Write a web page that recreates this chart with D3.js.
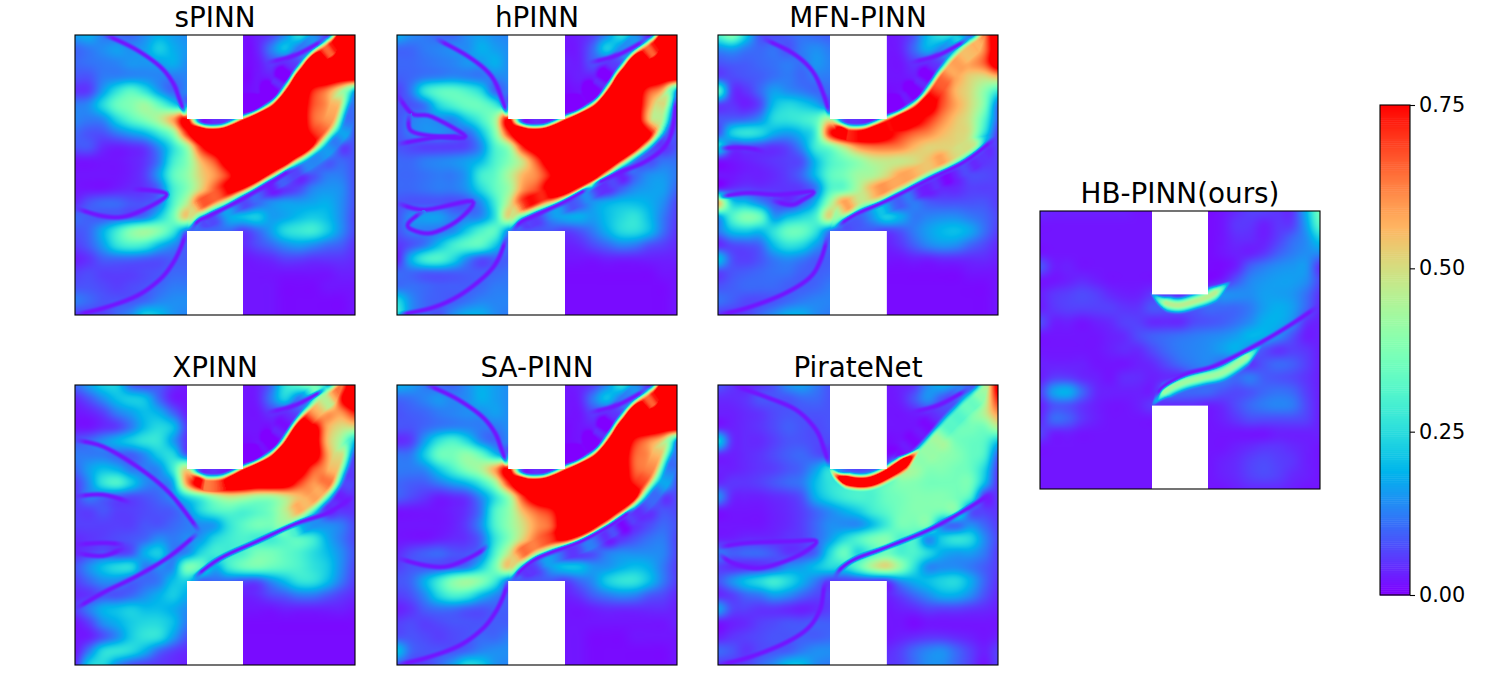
<!DOCTYPE html>
<html>
<head>
<meta charset="utf-8">
<script src="https://cdnjs.cloudflare.com/ajax/libs/d3/7.8.5/d3.min.js"></script>
<style>
body { margin: 0; background: #fff; }
text { font-family: "DejaVu Sans", sans-serif; fill: #000; }
</style>
</head>
<body>
<div id="chart"></div>
<script>
var svgWidth = 1500;
var svgHeight = 700;

// velocity fields, 21 x 21 nodes, top row first, in hundredths
// (the colour scale saturates at 75, anything read as full red is written as 90)
var sPINN = [
[16,18,12,10,10,14,18,16,14,14,14,14,2,3,6,14,25,14,10,90,90],
[10,12,14,16,14,16,22,18,15,15,15,15,2,3,12,20,10,5,25,90,90],
[10,11,12,13,15,15,16,18,14,14,14,14,2,2,6,4,10,90,90,90,90],
[8,8,12,13,14,14,13,12,13,13,13,13,1,2,3,8,90,90,90,85,85],
[5,6,16,26,32,26,16,10,13,13,13,3,1,2,3,90,90,72,62,45,20],
[12,14,24,34,38,42,34,24,14,10,10,10,1,3,30,90,85,68,60,40,12],
[13,12,14,24,32,38,45,58,75,12,10,12,40,90,90,90,85,66,58,35,10],
[10,8,8,12,16,20,28,40,72,90,90,90,90,90,90,90,85,72,62,30,8],
[8,8,4,3,4,6,14,26,42,72,85,90,90,90,90,90,90,85,35,8,8],
[2,2,2,2,3,5,12,28,38,56,68,85,90,90,90,90,55,25,10,10,8],
[2,2,2,2,3,6,16,32,40,52,60,72,90,90,85,30,8,8,12,12,8],
[2,2,2,3,4,5,10,28,38,52,66,75,80,25,7,5,7,13,15,14,8],
[4,8,10,10,8,8,12,30,46,66,60,10,8,10,14,16,16,17,18,14,8],
[10,9,8,9,9,12,22,35,52,10,10,17,20,22,16,17,20,22,20,14,7],
[8,10,18,28,38,42,38,28,12,10,10,10,6,10,16,24,27,28,22,14,7],
[6,9,16,26,30,28,20,14,9,9,4,4,4,7,10,14,16,14,11,9,5],
[3,5,9,10,10,9,8,9,9,9,2,2,2,3,4,6,6,5,5,5,4],
[6,7,6,6,6,7,8,10,10,10,2,2,2,2,2,2,2,2,2,3,3],
[8,8,7,6,7,8,10,12,12,12,2,2,2,2,2,1,1,1,2,2,2],
[12,10,8,8,8,10,13,14,14,14,2,2,2,2,2,1,1,1,1,1,2],
[6,6,6,10,14,22,20,15,13,13,2,2,2,2,2,1,1,1,1,1,2]
];

var hPINN = [
[18,14,12,10,10,14,16,14,13,13,13,2,2,3,6,14,25,14,6,90,90],
[10,10,12,13,14,14,18,16,14,14,14,2,2,3,10,22,12,6,25,90,90],
[10,10,11,12,13,15,15,18,14,14,14,3,3,3,8,5,6,90,90,90,90],
[9,10,12,13,14,13,12,13,14,14,14,2,2,3,3,8,90,90,90,85,85],
[6,12,26,32,33,30,24,10,12,12,12,1,1,2,3,90,90,85,68,55,14],
[8,8,12,24,30,34,34,28,12,10,10,2,2,5,35,90,90,85,60,38,10],
[8,12,14,14,14,22,30,42,75,12,10,12,40,90,90,90,90,85,55,30,8],
[8,12,14,14,12,10,20,38,72,90,90,90,90,90,90,90,90,85,70,25,7],
[8,7,6,6,6,7,14,30,42,72,85,90,90,90,90,90,90,72,20,6,8],
[10,10,12,13,14,16,20,30,38,50,68,85,90,90,90,85,65,20,8,11,11],
[10,10,11,12,12,16,28,33,44,56,62,75,90,90,85,40,8,10,14,15,12],
[10,10,11,12,12,15,24,33,42,60,68,80,85,60,12,5,9,14,16,16,10],
[8,8,8,8,7,8,14,28,48,68,72,35,8,11,15,18,20,20,18,14,7],
[8,14,16,16,12,12,14,26,50,10,10,15,17,18,16,20,24,26,20,12,6],
[8,12,12,12,14,22,30,32,14,8,8,8,6,8,12,18,24,25,20,11,5],
[5,8,12,20,28,32,32,22,10,10,3,3,3,4,7,10,13,12,8,6,4],
[3,18,28,30,24,14,8,9,9,9,2,2,2,2,2,3,3,3,3,3,3],
[10,10,9,9,9,9,9,10,11,11,1,1,1,1,1,1,1,1,1,2,2],
[11,11,10,9,9,9,10,12,12,12,1,1,1,1,1,1,1,1,1,1,2],
[24,14,10,9,9,11,13,13,13,13,1,1,1,1,1,1,1,1,1,1,2],
[28,14,10,8,14,18,18,14,12,12,1,1,1,1,1,1,1,1,1,1,2]
];

var mfnPINN = [
[30,38,22,8,7,9,11,10,9,9,9,2,2,3,8,20,26,22,10,60,85],
[14,16,12,10,11,8,12,14,12,12,12,2,2,3,10,18,12,6,40,62,85],
[8,9,9,10,11,12,11,15,13,13,13,2,2,2,5,4,4,50,58,66,85],
[7,7,8,9,11,12,10,12,12,12,12,2,2,2,3,6,58,58,52,50,55],
[30,6,5,10,16,14,12,10,10,10,10,1,1,2,5,68,68,56,50,40,28],
[6,5,3,7,20,24,22,18,10,10,10,1,1,8,55,80,68,58,50,38,12],
[8,9,10,14,24,26,28,32,45,14,10,12,35,85,80,72,62,54,48,32,10],
[8,22,26,24,18,16,20,30,72,85,85,85,78,72,66,62,56,52,48,26,6],
[24,7,7,6,5,7,14,28,36,48,60,64,64,62,56,52,52,50,40,8,6],
[2,2,3,4,5,6,8,20,30,35,40,46,48,48,50,54,56,40,6,5,6],
[2,2,3,3,4,6,10,20,32,36,42,44,50,58,56,50,6,6,7,7,6],
[4,5,6,5,5,5,6,12,30,34,44,56,60,52,8,5,4,4,6,6,6],
[55,24,20,14,8,5,10,20,42,58,48,32,10,10,12,9,8,8,8,8,6],
[16,30,38,34,16,20,24,30,50,10,12,16,22,18,12,13,14,14,12,10,7],
[12,20,22,20,26,34,34,26,12,8,8,8,6,8,12,16,19,20,17,11,6],
[4,7,8,10,20,26,24,16,10,10,3,3,3,5,9,13,15,14,10,7,4],
[20,8,6,8,12,14,12,9,9,9,2,2,2,2,3,3,4,4,4,4,3],
[6,8,9,10,11,11,9,9,10,10,1,1,1,1,1,1,1,1,2,2,2],
[8,9,10,10,10,9,9,10,12,12,1,1,1,1,1,1,1,1,1,1,2],
[11,9,7,7,8,10,12,13,13,13,1,1,1,1,1,1,1,1,1,1,2],
[5,5,6,10,14,18,18,14,12,12,1,1,1,1,1,1,1,1,1,1,2]
];

var xPINN = [
[10,16,22,22,10,7,8,4,2,2,2,2,2,3,10,26,32,36,20,60,90],
[4,8,14,20,22,20,10,3,2,2,2,2,2,3,12,22,10,6,20,72,90],
[2,3,6,12,16,20,18,10,3,3,3,2,2,2,5,4,5,42,58,60,72],
[2,2,4,6,12,20,24,20,6,6,6,2,2,2,2,12,72,80,58,50,50],
[8,10,14,18,22,26,26,16,5,5,5,1,1,2,4,60,90,85,56,42,20],
[12,12,12,10,9,14,22,24,10,10,10,2,2,6,45,90,90,85,60,40,8],
[10,16,20,18,12,12,14,28,50,12,10,12,40,90,90,90,85,68,58,36,6],
[6,14,26,30,22,14,12,18,60,85,90,90,90,90,90,85,70,60,60,22,5],
[6,12,10,8,7,8,10,14,24,32,42,48,46,42,42,48,55,55,30,5,5],
[6,6,8,6,6,7,8,9,14,24,30,32,30,32,36,46,56,28,6,5,5],
[6,6,6,6,6,8,8,10,12,14,16,26,32,36,36,40,12,14,14,12,7],
[4,5,6,7,8,10,14,12,14,16,24,28,30,28,28,32,32,28,18,12,7],
[4,6,8,6,8,18,22,12,14,24,28,28,30,36,36,33,30,25,20,14,8],
[8,14,20,24,24,12,14,14,36,32,18,28,34,36,34,32,30,26,22,14,7],
[6,10,14,14,10,10,12,20,22,10,10,10,8,8,14,20,26,26,20,12,6],
[4,5,8,8,10,14,18,22,18,18,3,3,3,4,7,9,12,12,9,6,4],
[6,12,18,20,22,20,20,18,14,14,2,2,2,2,2,3,3,3,3,3,2],
[2,6,14,18,22,24,24,20,12,12,1,1,1,1,1,1,1,1,1,1,1],
[2,3,8,14,22,26,25,16,8,8,1,1,1,1,1,1,1,1,1,1,1],
[2,12,24,26,24,18,10,6,4,4,1,1,1,1,1,1,1,1,1,1,1],
[4,22,24,14,8,6,5,4,3,3,1,1,1,1,1,1,1,1,1,1,1]
];

var saPINN = [
[18,16,12,10,10,14,18,16,14,14,14,2,2,3,6,14,25,14,8,90,90],
[10,11,13,15,13,14,18,16,14,14,14,2,2,3,12,20,10,5,25,90,90],
[8,9,10,12,13,14,14,16,14,14,14,2,2,2,6,4,8,90,90,90,90],
[8,8,10,12,13,13,12,12,14,14,14,1,1,2,3,8,90,90,90,85,85],
[4,6,16,26,30,24,14,10,13,13,13,1,1,2,4,90,90,72,62,50,15],
[11,12,22,34,36,40,34,22,12,10,10,1,1,4,35,90,85,66,60,38,12],
[12,12,14,22,30,38,44,58,75,13,10,14,40,90,90,90,85,66,60,34,10],
[10,9,9,12,16,20,28,42,72,90,90,90,90,90,90,90,85,72,66,28,8],
[9,7,5,3,4,6,14,26,42,70,85,90,90,90,90,90,90,85,30,7,7],
[2,2,2,2,3,5,12,30,40,56,66,72,85,90,90,85,60,18,6,8,7],
[2,2,2,2,3,6,14,30,40,50,60,66,85,90,85,60,8,5,7,10,8],
[2,2,2,3,4,5,10,26,38,52,64,68,80,76,30,6,5,8,11,12,7],
[4,7,9,10,8,8,12,30,48,66,62,20,8,8,8,12,14,14,14,13,7],
[6,8,8,8,9,12,22,36,52,10,10,16,20,20,15,15,18,20,18,12,6],
[8,10,18,28,38,42,38,28,12,8,8,8,6,10,14,22,26,26,20,12,6],
[6,8,14,24,30,28,20,14,9,9,3,3,3,5,9,12,14,13,9,7,4],
[3,5,9,11,11,9,8,9,9,9,2,2,2,2,3,4,4,4,4,4,3],
[6,7,6,7,8,8,8,9,9,9,2,2,2,2,2,2,2,2,2,2,3],
[8,8,7,6,7,8,10,10,12,12,2,2,2,2,1,1,1,2,2,2,2],
[20,10,8,8,8,10,13,14,14,14,2,2,2,2,1,1,1,1,1,1,2],
[8,6,6,10,16,24,22,15,13,13,2,2,2,2,1,1,1,1,1,1,2]
];

var pirateNet = [
[8,5,3,5,8,14,16,12,8,8,8,2,2,3,5,14,18,14,10,35,80],
[4,4,5,8,8,8,10,10,8,8,8,2,2,3,8,14,8,5,12,40,72],
[3,3,4,5,7,8,8,8,8,8,8,2,2,2,3,4,5,16,34,45,60],
[3,3,4,5,7,9,8,7,8,8,8,2,2,2,2,3,16,32,36,36,45],
[22,5,4,4,6,8,8,7,7,7,7,1,1,2,4,28,42,36,34,32,22],
[4,3,4,5,7,9,10,8,6,5,5,1,1,6,26,40,40,38,34,30,10],
[3,3,4,5,6,8,10,16,24,10,6,8,12,40,42,38,38,36,34,24,6],
[4,5,5,6,8,10,12,20,26,26,26,28,32,38,38,36,36,36,36,20,5],
[14,4,3,3,4,5,8,18,24,28,30,30,34,36,38,38,38,36,30,5,5],
[2,2,2,2,3,4,6,10,14,18,22,28,32,36,38,38,36,36,10,6,5],
[2,2,2,2,3,4,6,10,14,14,14,20,28,36,36,36,14,10,14,10,6],
[3,3,4,4,4,5,6,10,16,24,30,36,38,30,30,14,22,26,24,14,7],
[12,9,10,10,8,5,6,10,24,34,24,30,35,30,30,24,18,16,16,12,6],
[6,4,4,5,8,14,16,20,24,24,32,44,50,40,26,14,14,14,12,9,6],
[8,14,20,24,28,24,18,12,6,6,6,6,6,14,18,20,23,24,18,10,5],
[4,6,10,12,16,14,10,7,6,6,3,3,3,6,10,14,18,18,14,8,4],
[16,7,6,5,5,4,3,4,6,6,2,2,2,3,4,6,6,6,5,4,3],
[2,3,4,6,7,8,8,9,9,9,2,2,2,2,1,2,2,2,2,2,2],
[3,5,6,7,8,8,9,9,10,10,2,2,2,3,4,5,5,4,3,2,3],
[10,8,5,7,8,9,12,14,14,14,4,4,4,6,10,13,14,10,6,3,6],
[5,5,6,10,14,20,20,14,12,12,5,5,5,6,10,14,14,10,6,2,6]
];

var hbPINN = [
[4,3,3,3,3,3,3,2,2,2,2,1,1,2,4,6,6,5,5,18,36],
[2,2,2,2,2,2,2,2,2,2,2,1,1,2,5,5,3,5,6,16,32],
[2,2,2,2,2,2,2,2,2,2,2,1,1,2,4,4,3,6,10,14,22],
[2,2,2,2,2,2,2,2,2,2,2,1,1,2,3,3,5,9,12,14,14],
[8,3,3,2,2,2,2,2,2,2,2,1,1,1,3,9,12,14,15,15,5],
[2,2,3,4,3,2,2,2,2,2,2,1,1,3,8,13,15,16,16,14,7],
[3,5,6,7,6,4,3,3,5,6,4,6,10,14,14,14,16,16,15,11,5],
[3,5,6,6,6,6,5,5,8,8,8,8,10,10,10,12,16,18,16,10,4],
[7,3,3,2,3,4,6,6,4,4,4,7,8,9,11,14,18,18,14,5,3],
[2,2,2,2,2,3,4,7,9,10,11,12,13,14,16,19,18,14,8,3,3],
[2,2,2,2,2,3,4,4,7,10,12,13,14,16,18,13,8,5,6,5,3],
[3,3,3,3,2,2,2,3,4,7,10,12,13,10,8,5,8,10,9,6,3],
[3,6,6,4,3,2,4,4,3,4,4,8,10,12,10,12,9,8,7,5,3],
[6,16,18,10,4,3,3,3,3,10,10,10,10,8,7,8,10,11,10,6,3],
[3,8,8,5,3,2,2,3,5,4,4,4,3,4,7,10,12,13,12,7,3],
[4,10,9,5,3,2,2,2,2,2,2,2,2,3,5,7,7,7,7,6,3],
[6,3,3,2,2,2,2,2,2,2,2,2,2,2,2,2,2,3,3,3,3],
[2,2,2,2,2,2,2,2,2,2,2,2,2,2,3,4,5,5,4,3,2],
[2,2,2,2,2,2,2,2,2,2,2,2,2,3,4,6,7,6,5,3,2],
[2,2,2,2,2,2,2,2,2,2,2,2,2,3,4,6,7,6,4,3,2],
[2,2,2,2,2,2,2,2,2,2,2,2,2,2,3,4,4,4,3,2,2]
];

// sharp jet boundaries, percent of the domain
var topArc = [[40,29.5],[43,31.5],[47,32.8],[52,32.8],[56,31.5],[60,29.5],[65,27.5],[70,24.5],[74,20.5],[78,14.5],[82,9.5],[87,4.5],[93,0],[96,-3]];
var sPINNFronts = [topArc, [[40,70],[43,66.5],[47,63.2],[56.5,58.2],[68,51.7],[78,45.7],[86.7,39.8],[93.3,32.7],[96.2,25.5],[98.6,19.6],[100,18]]];
var hPINNFronts = [topArc, [[40,70],[42.8,66.5],[48.1,63],[60,58],[71.9,51.7],[81.4,45.1],[89.7,39.2],[95.6,32.7],[97.4,25.5],[99.2,19.6],[100,18]]];
var mfnFronts = [topArc, [[40,70],[42.2,68],[49.3,63],[60,58.3],[75.4,50.5],[88.5,44],[99.2,35.7]]];
var xPINNFronts = [topArc, [[70,53],[79,48.5],[86,44],[92,38],[96,30],[98.5,22],[100,18]]];
var saFronts = [topArc, [[40,70],[42.8,66.2],[48.1,61.8],[54,58.8],[64.7,55.2],[75.4,49.3],[85,42.2],[92,33.9],[96.2,25.5],[99.2,19],[100,18]]];
var pirateFronts = [[[60,29.5],[67,26.5],[74,20],[80,13],[86,7],[94,0],[97,-3]]];
var hbFronts = [];

// thin low-speed filaments
var topRightNull = [[68.3,10],[79,7.1],[89.7,1.2]];
var arcTopLeft = [[10,0],[13.7,1.2],[22,5.3],[30.3,11.2],[35,17.1],[37.4,23.2],[39.5,29]];
var arcBottomLeft = [[0,100],[10,97.6],[22,93.2],[30.3,87.3],[35,81.4],[38,75.4],[39.8,69.8]];
var sPINNNulls = [arcTopLeft, arcBottomLeft, topRightNull,
  [[0,61.8],[10,64.7],[18.4,64.7],[28,60.6],[32.7,57],[28,55.6],[20,55]],
  [[41,70],[44,66.5],[48,64.5],[57,60],[68.5,53.5],[78.5,47.3]]];
var hPINNNulls = [topRightNull,
  [[13.7,1.2],[25.5,7.7],[33.8,14.8],[38,24.3],[39.5,29.3]],
  [[0,100],[12,97.6],[22,93.2],[31.5,86],[36.2,80],[39.2,71.8]],
  [[0,21],[5.3,28],[12.5,29.2],[24.3,36.2],[14,36.2],[5.3,34.4],[4.2,30],[5.3,28]],
  [[0,39],[14,36.6],[24.3,36.2]],
  [[0,60],[10,62.4],[26.7,59.4],[22,66],[12.5,70.7],[5.3,69.5],[4.2,67],[10,62.4]],
  [[69.5,54],[79,49.3],[88.5,45.3],[95.6,39.9],[98.6,32.7],[99.7,21.9]],
  [[41,70.5],[44,67],[49,64.5],[60,59.5],[69.5,54]]];
var mfnNulls = [topRightNull,
  [[16,1.2],[26.7,6.5],[33.8,13],[38,22],[40,29.3]],
  [[0,100],[10,97.6],[23.2,92.6],[32.7,86.7],[36.8,80],[39.2,71.8]],
  [[0,58],[10,56.4],[22,57],[33.8,56],[30,59],[26,60.6],[19,59]],
  [[0,40.4],[10,40.4],[17,41.6]],
  [[42,68.8],[49.3,64],[60,59.3],[75.4,51.5],[88.5,45],[99.2,36.7]]];
var xPINNNulls = [topRightNull,
  [[0,19.6],[10,22],[22,29],[33.8,38.6],[44.5,52.3]],
  [[0,80],[10,74.2],[22,68.3],[33.8,61.2],[44,52.8]],
  [[0,39.8],[10,39.2],[20,42]],
  [[0,57],[10,56.4],[18,57]],
  [[0,60],[10,61],[18,58]],
  [[42.2,69],[51.7,62],[64.7,56],[79,49.5],[90,45.8],[97,41.5],[100,39.5]]];
var saNulls = [arcTopLeft, arcBottomLeft, topRightNull,
  [[0,61.8],[10,64.4],[18.4,64.7],[28,60.6],[32.7,57]],
  [[41,70],[44,66.5],[49,62.5],[55,59.8],[65,56.2],[76,50.3],[85,44]]];
var pirateNulls = [topRightNull,
  [[5.3,0],[17,4.2],[27.9,8.9],[35,16],[38,23.2],[40,29.3]],
  [[0,100],[10,97.6],[23,92.6],[32,87],[36.5,80],[38,72],[39.6,70]],
  [[0,58],[10,56.4],[26.7,55.8],[35,55.8],[30.3,60],[22,63.6],[13.7,65.4],[5.3,63.6],[0,60]],
  [[41.5,69],[44,65.5],[49.3,62],[60,58],[75.4,51.7],[88.5,44.5],[98,38.5]]];
var hbNulls = [
  [[41.3,68.5],[43.3,63.7],[51.7,58.8],[62,55.9],[73,50.5],[83.7,44.5],[93.2,38.5],[99.2,34.3]]];

// narrow fast bands hugging the blocks
var pirateRidges = [[[40,30],[43,32.8],[48,34.5],[54,34.5],[60,32],[66,28],[72,23]]];
var hbRidges = [
  [[39.5,29.5],[44,32.7],[49.3,33.9],[55.2,32.5],[61,30.3],[68,25.5]],
  [[40,70],[44.5,65],[50.5,62],[57.7,60],[64.7,58.3],[71.9,54],[79,48.5]]];

var panelNames = ["sPINN", "hPINN", "MFN-PINN", "XPINN", "SA-PINN", "PirateNet", "HB-PINN(ours)"];
var panelFields = [sPINN, hPINN, mfnPINN, xPINN, saPINN, pirateNet, hbPINN];
var panelFronts = [sPINNFronts, hPINNFronts, mfnFronts, xPINNFronts, saFronts, pirateFronts, hbFronts];
var panelNulls = [sPINNNulls, hPINNNulls, mfnNulls, xPINNNulls, saNulls, pirateNulls, hbNulls];
var panelRidges = [[], [], [], [], [], pirateRidges, hbRidges];
var ridgeSpeed = [[], [], [], [], [], [1.0], [0.46, 0.42]];
var panelLeft = [75, 397, 718, 75, 397, 718, 1040];
var panelTop = [35, 35, 35, 385, 385, 385, 211];
var panelHeight = [280, 280, 280, 280, 280, 280, 278];
var panelWidth = 280;

var colorbarTicks = [0, 0.25, 0.5, 0.75];

// the two blocks cut out of the domain, in domain units
var panelBlockX = [[0.4, 0.6], [0.397, 0.6], [0.4, 0.603], [0.4, 0.6], [0.397, 0.6], [0.4, 0.603], [0.4, 0.6]];
var blockTop = [0, 0.3];
var blockBottom = [0.7, 1];

var frontBand = 14;
var frontEdge = [4.5, 7];
var taperLength = 22;

// matplotlib's "rainbow"
function rainbow(t) {
  var r = Math.abs(2 * t - 0.5);
  var g = Math.sin(Math.PI * t);
  var b = Math.cos(Math.PI * t / 2);
  return d3.rgb(255 * Math.min(r, 1), 255 * g, 255 * b).formatRgb();
}

var color = d3.scaleSequential(rainbow).domain([0, 0.75]).clamp(true);

// smooth the field between the nodes, like shading the mesh
function cubic(a, b, c, d, t) {
  return b + 0.5 * t * (c - a + t * (2 * a - 5 * b + 4 * c - d + t * (3 * (b - c) + d - a)));
}

function smooth(a, b, x) {
  var t = Math.max(0, Math.min(1, (x - a) / (b - a)));
  return t * t * (3 - 2 * t);
}

function sample(field, gx, gy) {
  var n = field.length;
  gx = Math.max(0, Math.min(n - 1, gx));
  gy = Math.max(0, Math.min(n - 1, gy));
  var ix = Math.min(Math.floor(gx), n - 2);
  var iy = Math.min(Math.floor(gy), n - 2);
  var tx = gx - ix;
  var ty = gy - iy;
  var rows = [-1, 0, 1, 2].map(function(dy) {
    var row = field[Math.max(0, Math.min(n - 1, iy + dy))];
    var p = [-1, 0, 1, 2].map(function(dx) {
      return row[Math.max(0, Math.min(n - 1, ix + dx))];
    });
    return cubic(p[0], p[1], p[2], p[3], tx);
  });
  return cubic(rows[0], rows[1], rows[2], rows[3], ty) / 100;
}

// polyline in percent -> dense smooth polyline in pixels
function flatten(points, x, y) {
  var out = [];
  var n = points.length;
  function at(i, k) {
    return points[Math.max(0, Math.min(n - 1, i))][k];
  }
  for (var i = 0; i < n - 1; i++) {
    for (var s = 0; s < 6; s++) {
      var t = s / 6;
      out.push([
        x(cubic(at(i - 1, 0), at(i, 0), at(i + 1, 0), at(i + 2, 0), t)),
        y(cubic(at(i - 1, 1), at(i, 1), at(i + 1, 1), at(i + 2, 1), t))
      ]);
    }
  }
  out.push([x(points[n - 1][0]), y(points[n - 1][1])]);
  return out;
}

// walk every pixel close to a polyline, keeping the nearest foot point
function nearPixels(line, w, h, reach, visit) {
  var best = new Map();
  var arc = 0;
  var total = d3.sum(d3.pairs(line), p => Math.hypot(p[1][0] - p[0][0], p[1][1] - p[0][1]));
  d3.pairs(line).forEach(function(seg) {
    var ax = seg[0][0], ay = seg[0][1];
    var dx = seg[1][0] - ax, dy = seg[1][1] - ay;
    var len = Math.hypot(dx, dy) || 1e-6;
    var x0 = Math.max(0, Math.floor(Math.min(ax, ax + dx) - reach));
    var x1 = Math.min(w - 1, Math.ceil(Math.max(ax, ax + dx) + reach));
    var y0 = Math.max(0, Math.floor(Math.min(ay, ay + dy) - reach));
    var y1 = Math.min(h - 1, Math.ceil(Math.max(ay, ay + dy) + reach));
    for (var py = y0; py <= y1; py++) {
      for (var px = x0; px <= x1; px++) {
        var ux = px + 0.5 - ax, uy = py + 0.5 - ay;
        var along = Math.max(0, Math.min(len, (ux * dx + uy * dy) / len));
        var fx = ax + dx / len * along, fy = ay + dy / len * along;
        var dist = Math.hypot(px + 0.5 - fx, py + 0.5 - fy);
        if (dist > reach) continue;
        var key = py * w + px;
        var old = best.get(key);
        if (!old || dist < old.dist) {
          var nx = -dy / len, ny = dx / len;
          best.set(key, {
            dist: dist,
            side: (px + 0.5 - fx) * nx + (py + 0.5 - fy) * ny,
            fx: fx, fy: fy, nx: nx, ny: ny,
            taper: Math.min(1, (arc + along) / taperLength + 0.02, (total - arc - along) / taperLength + 0.02)
          });
        }
      }
    }
    arc += len;
  });
  best.forEach(function(b, key) {
    visit(key, b);
  });
}

function fieldImage(i) {
  var field = panelFields[i];
  var w = panelWidth;
  var h = panelHeight[i];
  var gridX = d3.scaleLinear().domain([0, w]).range([0, field.length - 1]);
  var gridY = d3.scaleLinear().domain([0, h]).range([0, field.length - 1]);
  var x = d3.scaleLinear().domain([0, 100]).range([0, w]);
  var y = d3.scaleLinear().domain([0, 100]).range([0, h]);

  var values = new Float32Array(w * h);
  for (var py = 0; py < h; py++) {
    for (var px = 0; px < w; px++) {
      values[py * w + px] = sample(field, gridX(px + 0.5), gridY(py + 0.5));
    }
  }

  // fronts: squeeze the change of speed into a narrow band along the boundary
  panelFronts[i].forEach(function(points, f) {
    var edge = frontEdge[f];
    nearPixels(flatten(points, x, y), w, h, frontBand, function(key, b) {
      var band = frontBand * b.taper;
      if (b.dist > band) return;
      var lo = sample(field, gridX(b.fx - b.nx * band), gridY(b.fy - b.ny * band));
      var hi = sample(field, gridX(b.fx + b.nx * band), gridY(b.fy + b.ny * band));
      var e = Math.min(edge, band);
      values[key] = lo + (hi - lo) * smooth(-e, e, b.side);
    });
  });

  panelRidges[i].forEach(function(points, r) {
    nearPixels(flatten(points, x, y), w, h, 11, function(key, b) {
      var k = (1 - smooth(0.5, 1.5 + 8.5 * b.taper, b.dist)) * Math.min(1, b.taper * 1.2);
      values[key] += (ridgeSpeed[i][r] - values[key]) * k;
    });
  });

  panelNulls[i].forEach(function(points) {
    nearPixels(flatten(points, x, y), w, h, 5, function(key, b) {
      var k = 1 - smooth(0.2, 4.2, b.dist);
      values[key] += (0.02 - values[key]) * k * Math.min(1, b.taper * 2);
    });
  });

  var canvas = document.createElement("canvas");
  canvas.width = w;
  canvas.height = h;
  var ctx = canvas.getContext("2d");
  var img = ctx.createImageData(w, h);
  values.forEach(function(v, key) {
    var c = d3.rgb(color(v));
    img.data[key * 4] = c.r;
    img.data[key * 4 + 1] = c.g;
    img.data[key * 4 + 2] = c.b;
    img.data[key * 4 + 3] = 255;
  });
  ctx.putImageData(img, 0, 0);
  return canvas.toDataURL();
}

var svg = d3.select("#chart").append("svg")
  .attr("width", svgWidth)
  .attr("height", svgHeight);

panelNames.forEach(function(name, i) {
  var w = panelWidth;
  var h = panelHeight[i];
  var x = d3.scaleLinear().domain([0, 1]).range([0, w]);
  var y = d3.scaleLinear().domain([0, 1]).range([0, h]);

  var g = svg.append("g")
    .attr("transform", `translate(${panelLeft[i]}, ${panelTop[i]})`);

  g.append("image")
    .attr("width", w)
    .attr("height", h)
    .attr("href", fieldImage(i));

  // white blocks
  g.selectAll("rect.block")
    .data([blockTop, blockBottom])
    .enter()
    .append("rect")
    .attr("class", "block")
    .attr("x", x(panelBlockX[i][0]))
    .attr("width", x(panelBlockX[i][1]) - x(panelBlockX[i][0]))
    .attr("y", d => y(d[0]))
    .attr("height", d => y(d[1]) - y(d[0]))
    .attr("fill", "#fff");

  g.append("rect")
    .attr("width", w)
    .attr("height", h)
    .attr("fill", "none")
    .attr("stroke", "#000")
    .attr("stroke-width", 1.1);

  g.append("text")
    .attr("x", w / 2)
    .attr("y", -8)
    .attr("text-anchor", "middle")
    .attr("font-size", 27.8)
    .text(name);
});

// colorbar
var barLeft = 1380;
var barTop = 105;
var barWidth = 30;
var barHeight = 490;

var barScale = d3.scaleLinear().domain([0, 0.75]).range([barHeight, 0]);
var barSteps = d3.range(0, 256).map(d => d / 256 * 0.75);

var bar = svg.append("g")
  .attr("transform", `translate(${barLeft}, ${barTop})`);

bar.selectAll("rect.step")
  .data(barSteps)
  .enter()
  .append("rect")
  .attr("class", "step")
  .attr("x", 0)
  .attr("width", barWidth)
  .attr("y", d => barScale(d + 0.75 / 256))
  .attr("height", barHeight / 256 + 0.5)
  .attr("fill", d => color(d));

bar.append("rect")
  .attr("width", barWidth)
  .attr("height", barHeight)
  .attr("fill", "none")
  .attr("stroke", "#000")
  .attr("stroke-width", 1.1);

var barAxis = d3.axisRight(barScale)
  .tickValues(colorbarTicks)
  .tickFormat(d3.format(".2f"))
  .tickSize(5)
  .tickPadding(4);

var axisGroup = bar.append("g")
  .attr("transform", `translate(${barWidth}, 0)`)
  .call(barAxis);

axisGroup.select(".domain").remove();
axisGroup.selectAll(".tick line").attr("stroke-width", 1.1);
axisGroup.selectAll(".tick text")
  .attr("font-size", 20.8)
  .attr("font-family", "DejaVu Sans");
</script>
</body>
</html>
